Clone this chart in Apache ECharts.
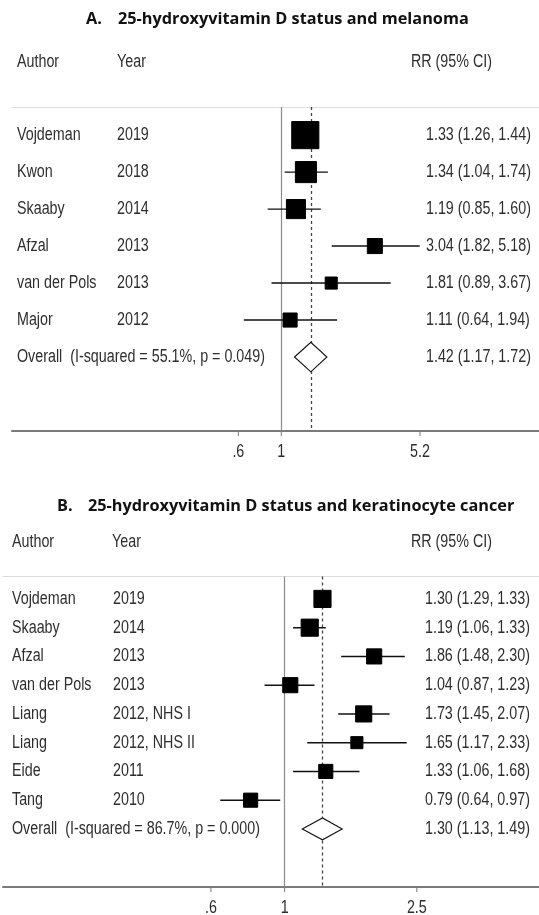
<!DOCTYPE html>
<html><head><meta charset="utf-8">
<script src="https://cdn.jsdelivr.net/npm/echarts@6/dist/echarts.min.js"></script>
<style>html,body{margin:0;padding:0;background:#fff}#c{width:539px;height:915px}</style>
</head><body><div id="c"></div>
<script>
// ---------- Panel A: melanoma ----------
const titleA = ['A.', '25-hydroxyvitamin D status and melanoma'];
const authorsA = ['Vojdeman', 'Kwon', 'Skaaby', 'Afzal', 'van der Pols', 'Major'];
const yearsA = ['2019', '2018', '2014', '2013', '2013', '2012'];
const rrA = [1.33, 1.34, 1.19, 3.04, 1.81, 1.11];
const loA = [1.26, 1.04, 0.85, 1.82, 0.89, 0.64];
const hiA = [1.44, 1.74, 1.60, 5.18, 3.67, 1.94];
const weightA = [34.8, 21.0, 17.2, 10.7, 6.9, 9.4];
const overallTextA = 'Overall  (I-squared = 55.1%, p = 0.049)';
const overallA = [1.42, 1.17, 1.72];
const ticksA = [0.6, 1, 5.2];
const tickLabelsA = ['.6', '1', '5.2'];

// ---------- Panel B: keratinocyte cancer ----------
const titleB = ['B.', '25-hydroxyvitamin D status and keratinocyte cancer'];
const authorsB = ['Vojdeman', 'Skaaby', 'Afzal', 'van der Pols', 'Liang', 'Liang', 'Eide', 'Tang'];
const yearsB = ['2019', '2014', '2013', '2013', '2012, NHS I', '2012, NHS II', '2011', '2010'];
const rrB = [1.30, 1.19, 1.86, 1.04, 1.73, 1.65, 1.33, 0.79];
const loB = [1.29, 1.06, 1.48, 0.87, 1.45, 1.17, 1.06, 0.64];
const hiB = [1.33, 1.33, 2.30, 1.23, 2.07, 2.33, 1.68, 0.97];
const weightB = [15.9, 15.9, 12.4, 12.4, 14.1, 7.9, 10.8, 10.8];
const overallTextB = 'Overall  (I-squared = 86.7%, p = 0.000)';
const overallB = [1.30, 1.13, 1.49];
const ticksB = [0.6, 1, 2.5];
const tickLabelsB = ['.6', '1', '2.5'];

const headers = ['Author', 'Year', 'RR (95% CI)'];

const TXT = '#2e2e2e';
const FONT = 'Liberation Sans, Arial, sans-serif';
const SY = 1.25;
const FS = 14.3;

function fmt(v) { return v.toFixed(2); }
function rrText(e, l, h) { return fmt(e) + ' (' + fmt(l) + ', ' + fmt(h) + ')'; }

function buildPanel(idx, cfg) {
  const studyData = cfg.rr.map((v, i) => [v, cfg.lo[i], cfg.hi[i], i, cfg.w[i]]);
  const nRows = cfg.rr.length;
  const rowAuthors = cfg.authors.concat([cfg.overallText]);
  const rowYears = cfg.years.concat(['']);
  const rowRR = cfg.rr.map((v, i) => rrText(v, cfg.lo[i], cfg.hi[i])).concat([rrText(cfg.overall[0], cfg.overall[1], cfg.overall[2])]);
  const textData = rowAuthors.map((a, i) => [1, i]);
  const tickData = cfg.ticks.map((t) => [t, 0]);

  const series = [
    {
      type: 'custom', xAxisIndex: idx * 2, yAxisIndex: idx,
      data: studyData, encode: { x: [0, 1, 2], y: 3 }, z: 5,
      renderItem: function (params, api) {
        const pE = api.coord([api.value(0), api.value(3)]);
        const pL = api.coord([api.value(1), api.value(3)]);
        const pH = api.coord([api.value(2), api.value(3)]);
        const s = cfg.boxScale * Math.sqrt(api.value(4));
        return { type: 'group', children: [
          { type: 'line', shape: { x1: pL[0], y1: pL[1], x2: pH[0], y2: pH[1] }, style: { stroke: '#111', lineWidth: 1.4 } },
          { type: 'rect', shape: { x: pE[0] - s / 2, y: pE[1] - s / 2, width: s, height: s }, style: { fill: '#000', stroke: '#000', lineWidth: 1 } }
        ] };
      },
      markLine: {
        silent: true, symbol: 'none', label: { show: false },
        data: [
          { xAxis: 1, lineStyle: { color: '#8a8a8a', width: 1.2, type: 'solid' } },
          { xAxis: cfg.overall[0], lineStyle: { color: '#444', width: 1.3, type: [3, 3] } }
        ]
      }
    },
    {
      type: 'custom', xAxisIndex: idx * 2, yAxisIndex: idx,
      data: [[cfg.overall[0], cfg.overall[1], cfg.overall[2], nRows]], encode: { x: [0, 1, 2], y: 3 }, z: 6,
      renderItem: function (params, api) {
        const r = api.value(3);
        const pL = api.coord([api.value(1), r]);
        const pH = api.coord([api.value(2), r]);
        const pT = api.coord([api.value(0), r - cfg.dh]);
        const pB = api.coord([api.value(0), r + cfg.dh]);
        return { type: 'polygon', shape: { points: [pL, pT, pH, pB] }, style: { fill: '#fff', stroke: '#111', lineWidth: 1.1 } };
      }
    },
    {
      type: 'custom', xAxisIndex: idx * 2, yAxisIndex: idx,
      data: textData, encode: { x: 0, y: 1 }, z: 7, clip: false,
      renderItem: function (params, api) {
        const i = params.dataIndex;
        const y = api.coord([api.value(0), api.value(1)])[1];
        const st = (t) => ({ text: t, fill: TXT, fontSize: FS, fontFamily: FONT, verticalAlign: 'middle', align: 'left' });
        return { type: 'group', children: [
          { type: 'text', x: cfg.xAuthor, y: y, scaleY: SY, style: st(rowAuthors[i]) },
          { type: 'text', x: cfg.xYear, y: y, scaleY: SY, style: st(rowYears[i]) },
          { type: 'text', x: cfg.xRR, y: y, scaleY: SY, style: st(rowRR[i]) }
        ] };
      }
    },
    {
      type: 'custom', xAxisIndex: idx * 2, yAxisIndex: idx,
      data: tickData, encode: { x: 0 }, z: 7, clip: false,
      renderItem: function (params, api) {
        const i = params.dataIndex;
        const x = api.coord([api.value(0), 0])[0];
        const cs = params.coordSys;
        const yb = cs.y + cs.height;
        return { type: 'group', children: [
          { type: 'line', shape: { x1: x, y1: yb, x2: x, y2: yb + 5 }, style: { stroke: '#777', lineWidth: 1 } },
          { type: 'text', x: x, y: yb + 21, scaleY: SY, style: { text: cfg.tickLabels[i], fill: TXT, fontSize: FS, fontFamily: FONT, align: 'center', verticalAlign: 'middle' } }
        ] };
      }
    }
  ];
  return series;
}

const cfgA = {
  rr: rrA, lo: loA, hi: hiA, w: weightA, authors: authorsA, years: yearsA,
  overall: overallA, overallText: overallTextA, ticks: ticksA, tickLabels: tickLabelsA,
  boxScale: 4.6, dh: 0.4, xAuthor: 17, xYear: 117, xRR: 426
};
const cfgB = {
  rr: rrB, lo: loB, hi: hiB, w: weightB, authors: authorsB, years: yearsB,
  overall: overallB, overallText: overallTextB, ticks: ticksB, tickLabels: tickLabelsB,
  boxScale: 4.3, dh: 0.38, xAuthor: 12, xYear: 113, xRR: 425
};

function xAxes(grid, min, max) {
  return [
    { type: 'log', gridIndex: grid, min: min, max: max, position: 'bottom',
      axisLine: { onZero: false, lineStyle: { color: '#7a7a7a', width: 2 } }, axisTick: { show: false }, axisLabel: { show: false }, splitLine: { show: false } },
    { type: 'log', gridIndex: grid, min: min, max: max, position: 'top',
      axisLine: { onZero: false, lineStyle: { color: '#dcdcdc', width: 1 } }, axisTick: { show: false }, axisLabel: { show: false }, splitLine: { show: false } }
  ];
}

const chart = echarts.init(document.getElementById('c'), null, { renderer: 'canvas' });

function titleGraphics(t, xA, xT, y) {
  return [
    { type: 'text', left: xA, top: y - 10, style: { text: t[0], fontSize: 16.3, fontWeight: 'bold', fontFamily: 'Open Sans, sans-serif', fill: '#111' } },
    { type: 'text', left: xT, top: y - 10, style: { text: t[1], fontSize: 16.3, fontWeight: 'bold', fontFamily: 'Open Sans, sans-serif', fill: '#111' } }
  ];
}
function headerGraphics(xAu, xYr, xRRend, y) {
  const st = (t, a) => ({ text: t, fontSize: FS, fontFamily: FONT, fill: TXT, verticalAlign: 'middle', align: a });
  return [
    { type: 'text', x: xAu, y: y, scaleY: SY, style: st(headers[0], 'left') },
    { type: 'text', x: xYr, y: y, scaleY: SY, style: st(headers[1], 'left') },
    { type: 'text', x: xRRend, y: y, scaleY: SY, style: st(headers[2], 'right') }
  ];
}

chart.setOption({
  animation: false,
  backgroundColor: '#fff',
  grid: [
    { left: 12, width: 527, top: 107, height: 324 },
    { left: 3, width: 536, top: 576.5, height: 310.5 }
  ],
  xAxis: xAxes(0, 0.0407, 21.4).concat(xAxes(1, 0.142, 5.83)),
  yAxis: [
    { type: 'value', gridIndex: 0, inverse: true, min: -0.76, max: 8.0, show: false },
    { type: 'value', gridIndex: 1, inverse: true, min: -0.78, max: 10.02, show: false }
  ],
  graphic: [].concat(
    titleGraphics(titleA, 86, 118, 21),
    headerGraphics(17, 117, 492, 62),
    titleGraphics(titleB, 57, 88, 508),
    headerGraphics(12, 112, 492, 542)
  ),
  series: buildPanel(0, cfgA).concat(buildPanel(1, cfgB))
});
</script>
</body></html>
